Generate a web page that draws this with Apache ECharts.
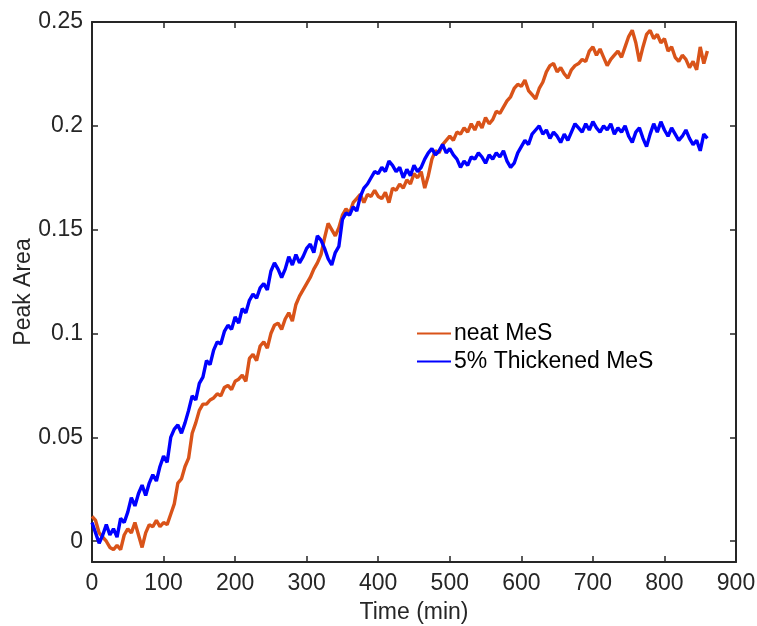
<!DOCTYPE html>
<html>
<head>
<meta charset="utf-8">
<script src="https://cdn.jsdelivr.net/npm/echarts@6/dist/echarts.min.js"></script>
<style>html,body{margin:0;padding:0;background:#fff}#c{width:757px;height:626px}</style>
</head>
<body>
<div id="c"></div>
<script>
var times = [0,5,10,15,20,25,30,35,40,45,50,55,60,65,70,75,80,85,90,95,
100,105,110,115,120,125,130,135,140,145,150,155,160,165,170,175,180,185,190,195,
200,205,210,215,220,225,230,235,240,245,250,255,260,265,270,275,280,285,290,295,
300,305,310,315,320,325,330,335,340,345,350,355,360,365,370,375,380,385,390,395,
400,405,410,415,420,425,430,435,440,445,450,455,460,465,470,475,480,485,490,495,
500,505,510,515,520,525,530,535,540,545,550,555,560,565,570,575,580,585,590,595,
600,605,610,615,620,625,630,635,640,645,650,655,660,665,670,675,680,685,690,695,
700,705,710,715,720,725,730,735,740,745,750,755,760,765,770,775,780,785,790,795,
800,805,810,815,820,825,830,835,840,845,850,855,860];

var neatMeS = [
0.012,0.010,0.004,0.002,0.000,-0.003,-0.004,-0.002,-0.004,0.003,
0.006,0.004,0.009,0.003,-0.003,0.004,0.008,0.007,0.010,0.007,
0.009,0.008,0.013,0.018,0.028,0.030,0.036,0.040,0.052,0.057,
0.063,0.066,0.066,0.068,0.069,0.071,0.070,0.074,0.075,0.073,
0.077,0.078,0.080,0.077,0.088,0.090,0.087,0.094,0.096,0.093,
0.100,0.104,0.105,0.102,0.107,0.110,0.106,0.114,0.118,0.121,
0.124,0.127,0.131,0.134,0.138,0.146,0.153,0.150,0.147,0.151,
0.157,0.160,0.158,0.163,0.165,0.167,0.163,0.167,0.166,0.169,
0.166,0.165,0.168,0.163,0.170,0.169,0.172,0.170,0.174,0.172,
0.177,0.175,0.178,0.170,0.176,0.184,0.188,0.187,0.191,0.193,
0.195,0.193,0.197,0.196,0.199,0.197,0.201,0.198,0.202,0.199,
0.204,0.201,0.203,0.207,0.206,0.209,0.212,0.214,0.218,0.220,
0.219,0.222,0.217,0.215,0.213,0.218,0.221,0.226,0.229,0.230,
0.226,0.228,0.225,0.223,0.227,0.229,0.230,0.232,0.231,0.236,
0.238,0.234,0.237,0.233,0.229,0.232,0.234,0.236,0.233,0.238,
0.243,0.246,0.240,0.231,0.238,0.244,0.246,0.242,0.244,0.240,
0.242,0.236,0.238,0.233,0.231,0.234,0.232,0.228,0.231,0.227,
0.238,0.230,0.236];

var thickenedMeS = [
0.009,0.004,-0.001,0.003,0.008,0.003,0.006,0.002,0.011,0.009,
0.014,0.021,0.017,0.023,0.027,0.022,0.028,0.032,0.029,0.036,
0.041,0.038,0.050,0.054,0.056,0.052,0.057,0.063,0.070,0.068,
0.076,0.079,0.087,0.085,0.092,0.096,0.095,0.101,0.104,0.102,
0.108,0.105,0.112,0.110,0.116,0.119,0.117,0.122,0.124,0.121,
0.130,0.134,0.131,0.127,0.131,0.137,0.133,0.138,0.134,0.137,
0.141,0.143,0.139,0.147,0.145,0.141,0.136,0.133,0.139,0.142,
0.155,0.158,0.157,0.161,0.159,0.166,0.170,0.172,0.175,0.178,
0.177,0.180,0.178,0.183,0.181,0.178,0.180,0.175,0.179,0.176,
0.181,0.178,0.180,0.184,0.187,0.189,0.186,0.188,0.191,0.187,
0.189,0.186,0.184,0.180,0.183,0.181,0.185,0.184,0.187,0.185,
0.182,0.186,0.184,0.187,0.185,0.188,0.183,0.180,0.182,0.187,
0.190,0.193,0.191,0.196,0.198,0.200,0.196,0.198,0.194,0.197,
0.195,0.192,0.196,0.193,0.197,0.201,0.199,0.197,0.201,0.198,
0.202,0.199,0.197,0.200,0.198,0.201,0.196,0.199,0.197,0.200,
0.195,0.192,0.197,0.199,0.194,0.190,0.196,0.201,0.197,0.202,
0.198,0.195,0.199,0.196,0.193,0.195,0.198,0.194,0.191,0.193,
0.188,0.196,0.194];

var yTicks = [0, 0.05, 0.1, 0.15, 0.2, 0.25];
var seriesNames = ['neat MeS', '5% Thickened MeS'];

function pairs(ys){ return times.map(function(t,i){ return [t, ys[i]]; }); }

var FONT = 'Liberation Sans, Arial, Helvetica, sans-serif';
var AX = '#262626';
var FS = 23;
function fmtY(v){ return (+v.toFixed(2)).toString(); }

var chart = echarts.init(document.getElementById('c'), null, {renderer:'canvas'});
chart.setOption({
  backgroundColor: '#fff',
  animation: false,
  grid: {left: 92, right: 21, top: 22, bottom: 64, containLabel: false, outerBoundsMode: 'none'},
  legend: {
    orient: 'vertical', left: 412, top: 317,
    itemWidth: 34, itemHeight: 2, itemGap: 5,
    icon: 'rect',
    textStyle: {fontFamily: FONT, fontSize: FS, color: '#000', padding: [0,0,0,-2]},
    data: seriesNames
  },
  xAxis: [{
    type: 'value', min: 0, max: 900, interval: 100, position: 'bottom',
    name: 'Time (min)', nameLocation: 'middle', nameGap: 39, nameMoveOverlap: false,
    nameTextStyle: {fontFamily: FONT, fontSize: FS, color: AX},
    axisLine: {show: true, onZero: false, lineStyle: {color: AX, width: 2}},
    axisTick: {show: true, inside: true, length: 6, lineStyle: {color: AX, width: 1.5}},
    axisLabel: {fontFamily: FONT, fontSize: FS, color: AX, margin: 10},
    splitLine: {show: false}
  }, {
    type: 'value', min: 0, max: 900, interval: 100, position: 'top',
    axisLine: {show: true, onZero: false, lineStyle: {color: AX, width: 2}},
    axisTick: {show: true, inside: true, length: 6, lineStyle: {color: AX, width: 1.5}},
    axisLabel: {show: false}, splitLine: {show: false}
  }],
  yAxis: [{
    type: 'value', min: -0.01, max: 0.25, position: 'left',
    name: 'Peak Area', nameLocation: 'middle', nameGap: 57, nameRotate: 90, nameMoveOverlap: false,
    nameTextStyle: {fontFamily: FONT, fontSize: FS, color: AX},
    axisLine: {show: true, onZero: false, lineStyle: {color: AX, width: 2}},
    axisTick: {show: true, inside: true, length: 6, customValues: yTicks, lineStyle: {color: AX, width: 1.5}},
    axisLabel: {fontFamily: FONT, fontSize: FS, color: AX, margin: 9, customValues: yTicks, formatter: fmtY},
    splitLine: {show: false}
  }, {
    type: 'value', min: -0.01, max: 0.25, position: 'right',
    axisLine: {show: true, onZero: false, lineStyle: {color: AX, width: 2}},
    axisTick: {show: true, inside: true, length: 6, customValues: yTicks, lineStyle: {color: AX, width: 1.5}},
    axisLabel: {show: false, customValues: yTicks}, splitLine: {show: false}
  }],
  series: [{
    name: seriesNames[0], type: 'line', data: pairs(neatMeS),
    showSymbol: false, symbol: 'none', color: '#D95319',
    lineStyle: {color: '#D95319', width: 3.4, join: 'bevel'}, z: 2
  }, {
    name: seriesNames[1], type: 'line', data: pairs(thickenedMeS),
    showSymbol: false, symbol: 'none', color: '#0000FF',
    lineStyle: {color: '#0000FF', width: 3.4, join: 'bevel'}, z: 3
  }]
});
</script>
</body>
</html>
